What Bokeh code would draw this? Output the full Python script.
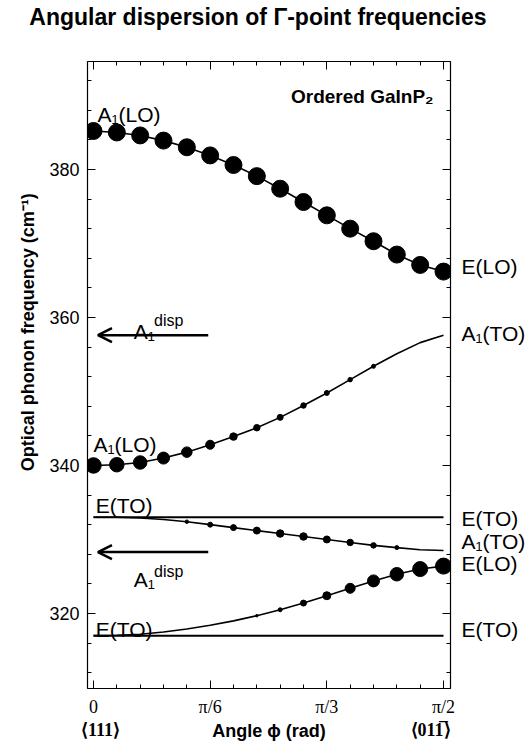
import math
from bokeh.plotting import figure
from bokeh.models import (Range1d, LinearAxis, FixedTicker, Label, Arrow, OpenHead,
                          AllLabels)
from bokeh.embed import file_html
from bokeh.resources import INLINE

# ---------------- data ----------------
angle_deg = [0, 6, 12, 18, 24, 30, 36, 42, 48, 54, 60, 66, 72, 78, 84, 90]

a1lo_upper_freq = [385.2, 385.0, 384.6, 383.9, 383.0, 381.9, 380.6, 379.1,
                   377.4, 375.6, 373.8, 372.0, 370.3, 368.5, 367.1, 366.2]
a1lo_upper_size = [17, 17, 17, 17, 17, 17, 17, 17, 17, 17, 17, 17, 17, 17, 17, 17]

a1lo_mid_freq = [340.0, 340.1, 340.4, 341.0, 341.8, 342.8, 343.9, 345.1,
                 346.5, 348.1, 349.8, 351.6, 353.4, 355.1, 356.6, 357.6]
a1lo_mid_size = [15.5, 14.5, 13.5, 12, 10.5, 9, 7.5, 6.5, 6, 5.5, 5, 4.5, 4, 0, 0, 0]

eto_branch_freq = [333.0, 333.0, 332.9, 332.7, 332.4, 332.0, 331.6, 331.2,
                   330.8, 330.4, 330.0, 329.6, 329.2, 328.9, 328.6, 328.5]
eto_branch_size = [0, 0, 0, 0, 3.5, 5, 6, 7, 7.5, 7.5, 7, 6.5, 5.5, 4, 0, 0]

eto_lower_freq = [317.0, 317.05, 317.2, 317.5, 317.9, 318.4, 319.0, 319.7,
                  320.5, 321.4, 322.4, 323.4, 324.4, 325.3, 326.0, 326.4]
eto_lower_size = [0, 0, 0, 0, 0, 0, 0, 2.5, 4, 6, 8, 10, 12, 13.5, 15, 16]

eto_flat_freq = [333.0, 317.0]
a1_disp_freq = [357.6, 328.3]

y_ticks = [320, 340, 360, 380]
x_tick_labels = ["0", "π/6", "π/3", "π/2"]

right_labels = ["E(LO)", "A₁(TO)", "E(TO)", "A₁(TO)", "E(LO)", "E(TO)"]
right_label_y = [366.9, 357.8, 332.8, 329.7, 326.8, 317.8]

dir_labels = ["⟨111⟩", "⟨011̅⟩"]
dir_label_x = [0.031, 1.513]

title_text = "Angular dispersion of Γ-point frequencies"
y_title_text = "Optical phonon frequency (cm⁻¹)"
x_title_text = "Angle ϕ (rad)"

# ---------------- figure ----------------
phi = [math.radians(a) for a in angle_deg]
x_ticks = [0, math.pi / 6, math.pi / 3, math.pi / 2]
x_minor = [k * math.pi / 30 for k in range(16)]
y_minor = list(range(312, 396, 4))

SANS = "Liberation Sans"
SERIF = "Liberation Serif"

p = figure(frame_width=363, frame_height=627,
           x_range=Range1d(-0.0269, 1.6022), y_range=Range1d(309.86, 394.59),
           output_backend="svg", toolbar_location=None, title_location=None,
           min_border_left=87, min_border_right=79, min_border_top=60,
           min_border_bottom=56)
p.background_fill_color = "white"
p.border_fill_color = "white"
p.outline_line_color = "black"
p.outline_line_width = 1.2
p.xgrid.visible = False
p.ygrid.visible = False

xt = FixedTicker(ticks=x_ticks, minor_ticks=x_minor)
yt = FixedTicker(ticks=y_ticks, minor_ticks=y_minor)

def style_axis(ax):
    ax.major_tick_in = 8
    ax.major_tick_out = 0
    ax.minor_tick_in = 4
    ax.minor_tick_out = 0
    ax.axis_line_color = None
    ax.major_tick_line_color = "black"
    ax.minor_tick_line_color = "black"
    ax.major_label_text_color = "black"
    ax.axis_label_text_color = "black"

def text_axis(ticks, texts, place, font, size, style, standoff, orientation="horizontal"):
    # an axis without marks, used only to place texts outside the frame
    ax = LinearAxis(ticker=FixedTicker(ticks=ticks, minor_ticks=[]),
                    major_label_overrides={ticks[i]: texts[i] for i in range(len(ticks))})
    ax.major_tick_in = 0
    ax.major_tick_out = 0
    ax.minor_tick_in = 0
    ax.minor_tick_out = 0
    ax.axis_line_color = None
    ax.major_tick_line_color = None
    ax.minor_tick_line_color = None
    ax.major_label_text_color = "black"
    ax.axis_label_text_color = "black"
    ax.major_label_policy = AllLabels()
    ax.major_label_text_font = font
    ax.major_label_text_font_size = size
    ax.major_label_text_font_style = style
    ax.major_label_standoff = standoff
    ax.major_label_orientation = orientation
    p.add_layout(ax, place)
    return ax

def mirror_axis(positions, length, place):
    # tick marks only (drawn as "minor" ticks so that no labels are produced)
    ax = LinearAxis(ticker=FixedTicker(ticks=[], minor_ticks=positions),
                    major_label_standoff=0)
    ax.major_tick_in = 0
    ax.major_tick_out = 0
    ax.minor_tick_in = length
    ax.minor_tick_out = 0
    ax.axis_line_color = None
    ax.minor_tick_line_color = "black"
    p.add_layout(ax, place)

# bottom axis
xa = p.xaxis[0]
xa.ticker = xt
xa.major_label_overrides = {x_ticks[i]: x_tick_labels[i] for i in range(4)}
xa.major_label_text_font = SERIF
xa.major_label_text_font_size = "18px"
xa.major_label_standoff = 8
style_axis(xa)

bx = text_axis(dir_label_x, dir_labels, "below", SERIF, "18px", "bold", 0)
bx.axis_label = x_title_text
bx.axis_label_text_font = SANS
bx.axis_label_text_font_style = "bold"
bx.axis_label_text_font_size = "18px"
bx.axis_label_standoff = -22

# left axis
ya = p.yaxis[0]
ya.ticker = yt
ya.major_label_text_font = SANS
ya.major_label_text_font_size = "18px"
ya.major_label_standoff = 8
style_axis(ya)
text_axis([358.0], [y_title_text], "left", SANS, "18px", "bold", 8, "vertical")

# mirrored tick marks on the right and top edges
mirror_axis(y_ticks, 8, "right")
mirror_axis(y_minor, 4, "right")
mirror_axis(x_ticks, 8, "above")
mirror_axis(x_minor, 4, "above")

# right-hand mode labels
text_axis(right_label_y, right_labels, "right", SANS, "21px", "normal", 11)

# title (placed above the frame)
text_axis([0.738], [title_text], "above", SANS, "23px", "bold", 32)

# curves
curves = [
    (a1lo_upper_freq, a1lo_upper_size),
    (a1lo_mid_freq, a1lo_mid_size),
    (eto_branch_freq, eto_branch_size),
    (eto_lower_freq, eto_lower_size),
]
for freq, size in curves:
    p.line(phi, freq, line_color="black", line_width=1.6)
    xs = [phi[i] for i in range(len(phi)) if size[i] > 0]
    ys = [freq[i] for i in range(len(phi)) if size[i] > 0]
    ss = [size[i] for i in range(len(phi)) if size[i] > 0]
    p.scatter(xs, ys, size=ss, marker="circle", fill_color="black", line_color="black")

for f in eto_flat_freq:
    p.line([phi[0], phi[-1]], [f, f], line_color="black", line_width=2)

# arrows
for f in a1_disp_freq:
    p.add_layout(Arrow(end=OpenHead(size=14, line_width=2.5, line_color="black"),
                       x_start=0.515, y_start=f, x_end=0.02, y_end=f,
                       line_width=2.5, line_color="black"))

def lab(text, x, y, size="21px", align="left", baseline="alphabetic",
        font=SANS, style="normal"):
    p.add_layout(Label(x=x, y=y, text=text, text_font=font, text_font_size=size,
                       text_font_style=style, text_align=align,
                       text_baseline=baseline, text_color="black"))

# inner labels
lab("A₁(LO)", 0.018, 387.4)
lab("A₁(LO)", 0.0, 342.8)
lab("E(TO)", 0.01, 334.6)
lab("E(TO)", 0.01, 317.8)
lab("Ordered GaInP₂", 1.526, 389.9, size="19px", align="right", style="bold")

# A1 disp labels
lab("A₁", 0.181, 358.1)
lab("disp", 0.272, 359.6, size="16px")
lab("A₁", 0.181, 324.65)
lab("disp", 0.272, 325.7, size="16px")

open("out.html", "w").write(file_html(p, INLINE))
